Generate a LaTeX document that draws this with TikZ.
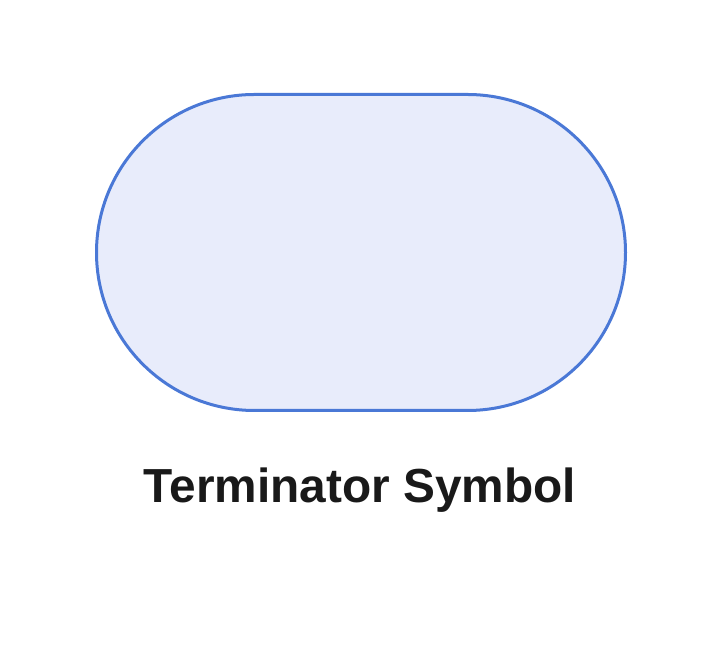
\documentclass[tikz,border=0pt]{standalone}
\usepackage{fontspec}
\setmainfont{Liberation Sans}
\usetikzlibrary{shapes.misc}
\definecolor{termline}{HTML}{4A78D6}
\definecolor{termfill}{HTML}{E8ECFB}
\begin{document}
\begin{tikzpicture}[x=1pt,y=1pt]
\tikzstyle{terminal}=[rounded rectangle,draw=termline,fill=termfill,line width=3pt,minimum width=529pt,minimum height=316pt,inner sep=0pt]
\tikzstyle{caption}=[font=\fontsize{47.8}{52}\selectfont\bfseries,text=black!90,anchor=base,inner sep=0pt]
\useasboundingbox (0,0) rectangle (720,655);
\node[terminal] (term) at (361,402.5) {};
\node[caption] (termlabel) at (360,152) {Terminator Symbol};
\end{tikzpicture}
\end{document}
